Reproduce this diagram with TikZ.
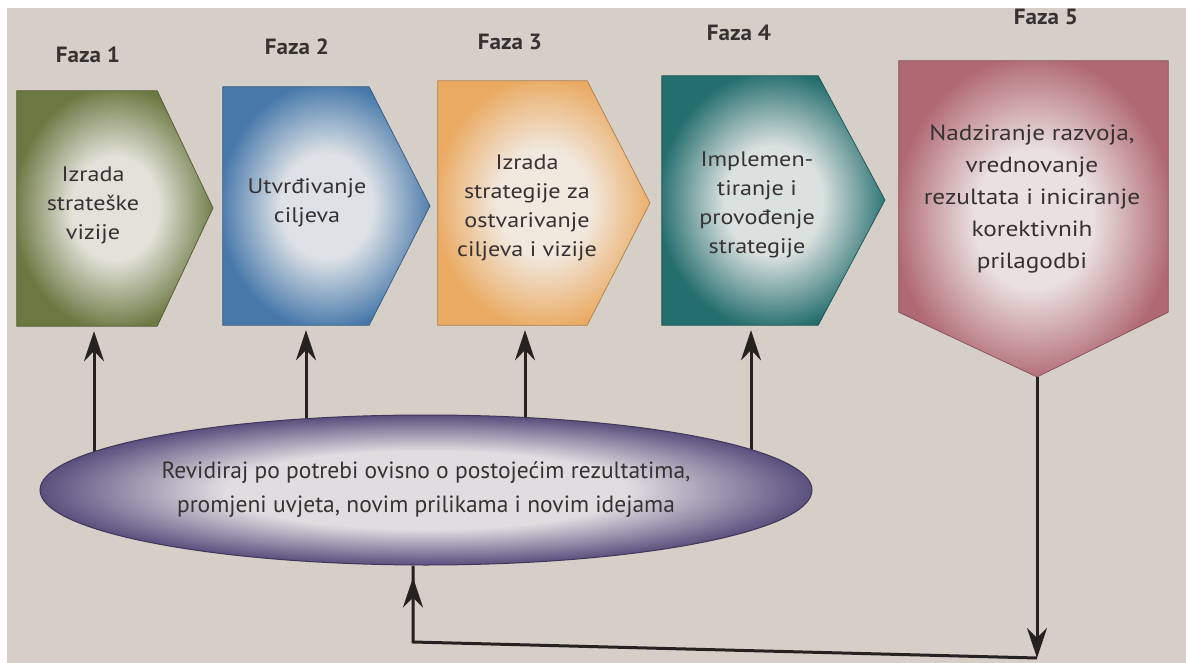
\documentclass[tikz,border=0pt]{standalone}
\usepackage{fontspec}
\setmainfont{PT Sans}
\newfontfamily\widefont[FakeStretch=1.15]{PT Sans}
\newfontfamily\fazafont[FakeStretch=1.05]{PT Sans}
\usetikzlibrary{arrows.meta,shapes.geometric,decorations.markings,backgrounds}
\definecolor{bg}{RGB}{213,207,200}
\definecolor{txt}{RGB}{55,50,50}
\definecolor{lnk}{RGB}{38,34,34}
\definecolor{cg}{RGB}{108,120,66}
\definecolor{cb}{RGB}{70,120,170}
\definecolor{co}{RGB}{234,170,98}
\definecolor{ct}{RGB}{36,110,110}
\definecolor{cp}{RGB}{176,104,114}
\definecolor{cv}{RGB}{90,80,126}
\colorlet{glowin}{white}
\colorlet{glowout}{gray}
\pgfdeclareradialshading[glowin,glowout]{glowbox}{\pgfpoint{0bp}{0bp}}{color(0bp)=(glowin); color(11bp)=(glowin); color(26bp)=(glowout); color(50bp)=(glowout)}
\pgfdeclareradialshading[glowin,glowout]{glowell}{\pgfpoint{0bp}{0bp}}{color(0bp)=(glowin); color(13bp)=(glowin); color(25bp)=(glowout); color(50bp)=(glowout)}
\tikzset{
  setglow/.code={\colorlet{glowout}{#1}\colorlet{glowin}{#1!16!white!72!bg}},
  phase/.style={setglow=#1, shading=glowbox, draw=#1!75!black, line width=0.7pt},
  body/.style={rectangle, inner sep=0pt, draw=none},
  boxtxt/.style={align=center, text=txt, font=\widefont\fontsize{21}{29}\selectfont},
  faza/.style={text=txt, font=\fazafont\fontsize{22}{26}\selectfont\bfseries},
  conn/.style={draw=lnk, line width=3pt},
  headtip/.tip={Stealth[length=30pt,width=20pt,inset=10pt]},
  arrowtip/.style={-headtip},
}
\begin{document}
\begin{tikzpicture}[x=1pt,y=-1pt]
\useasboundingbox (0,0) rectangle (1186,663);
% phase bodies
\node[body, minimum width=140, minimum height=235] (p1) at (87,208.5) {};
\node[body, minimum width=146, minimum height=238] (p2) at (296,206) {};
\node[body, minimum width=149, minimum height=244] (p3) at (512.5,203) {};
\node[body, minimum width=156, minimum height=249] (p4) at (740,200.5) {};
\node[body, minimum width=269, minimum height=251] (p5) at (1033.5,186.5) {};
\coordinate (k1) at (213,208);
\coordinate (k2) at (430,206);
\coordinate (k3) at (650,203);
\coordinate (k4) at (885,200);
\coordinate (k5) at (1037,377);
% ellipse
\node[ellipse, minimum width=772, minimum height=150, inner sep=0pt, setglow=cv, shade, shading=glowell,
      draw=cv!70!black, line width=1pt, align=center, text=txt, font=\fontsize{23.5}{34}\selectfont]
      (ell) at (426,490) {Revidiraj po potrebi ovisno o postojećim rezultatima,\\promjeni uvjeta, novim prilikama i novim idejama};
% texts
\node[boxtxt] (x1) at (93,205) {Izrada\\strateške\\vizije};
\node[boxtxt] (x2) at (307,203) {Utvrđivanje\\ciljeva};
\node[boxtxt] (x3) at (527,208) {Izrada\\strategije za\\ostvarivanje\\ciljeva i vizije};
\node[boxtxt] (x4) at (757,205) {Implemen-\\tiranje i\\provođenje\\strategije};
\node[boxtxt, font=\widefont\fontsize{22}{32}\selectfont] (x5) at (1032,199) {Nadziranje razvoja,\\vrednovanje\\rezultata i iniciranje\\korektivnih\\prilagodbi};
\node[faza] (f1) at (88,55) {Faza 1};
\node[faza] (f2) at (297,47) {Faza 2};
\node[faza] (f3) at (510,42) {Faza 3};
\node[faza] (f4) at (739,33) {Faza 4};
\node[faza] (f5) at (1046,17) {Faza 5};
\coordinate (ax1) at (94,0);
\coordinate (ax2) at (306,0);
\coordinate (ax3) at (525,0);
\coordinate (ax4) at (751,0);
\coordinate (c1) at (1037,658);
\coordinate (c2) at (413,642);
\begin{pgfonlayer}{background}
  \fill[white] (0,0) rectangle (1186,663);
  \fill[bg] (7,8) rectangle (1186,663);
  \shade[phase=cg] (p1.north west) -- (p1.north east) -- (k1) -- (p1.south east) -- (p1.south west) -- cycle;
  \shade[phase=cb] (p2.north west) -- (p2.north east) -- (k2) -- (p2.south east) -- (p2.south west) -- cycle;
  \shade[phase=co] (p3.north west) -- (p3.north east) -- (k3) -- (p3.south east) -- (p3.south west) -- cycle;
  \shade[phase=ct] (p4.north west) -- (p4.north east) -- (k4) -- (p4.south east) -- (p4.south west) -- cycle;
  \shade[phase=cp] (p5.north west) -- (p5.north east) -- (p5.south east) -- (k5) -- (p5.south west) -- cycle;
  \draw[conn, arrowtip, shorten >=5pt] (ax1 |- ell.center) -- (ax1 |- p1.south);
  \draw[conn, arrowtip, shorten >=5pt] (ax2 |- ell.center) -- (ax2 |- p2.south);
  \draw[conn, arrowtip, shorten >=5pt] (ax3 |- ell.center) -- (ax3 |- p3.south);
  \draw[conn, arrowtip, shorten >=5pt] (ax4 |- ell.center) -- (ax4 |- p4.south);
  \draw[conn, arrowtip] (k5) -- (c1);
  \draw[conn, postaction={decorate}, decoration={markings, mark=at position -12pt with {\arrow{headtip}}}]
      (c1) -- (c2) -- (c2 |- ell.south);
\end{pgfonlayer}
\end{tikzpicture}
\end{document}
